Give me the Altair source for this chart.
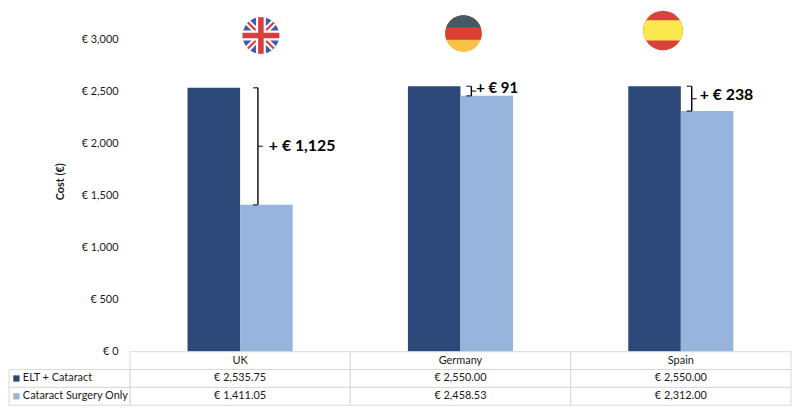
import math
import altair as alt
import pandas as pd

# ---------------- data ----------------
countries = ["UK", "Germany", "Spain"]
series_names = ["ELT + Cataract", "Cataract Surgery Only"]
elt_cataract = [2535.75, 2550.00, 2550.00]
cataract_only = [1411.05, 2458.53, 2312.00]
difference_labels = ["+ € 1,125", "+ € 91", "+ € 238"]
y_tick_values = [0, 500, 1000, 1500, 2000, 2500, 3000]
flag_levels = [3038, 3057, 3086]

# ---------------- style ----------------
FONT = "Lato"
bar_colors = ["#2B4878", "#97B4DC"]
grid_color = "#D9D9D9"
text_color = "#1A1A1A"
brace_offsets = [18, 11, 11]
label_offsets = [29, 16, 19]
label_dy = [0, -3.5, -4]
label_sizes = [16, 15, 16]
flag_offsets = [21, 3, -18]
flag_sizes = [1369, 1369, 1600]

W, H_PLOT, H_TABLE = 667, 344, 54
Y_MAX = 3276

# ---------------- tables ----------------
bars_df = pd.DataFrame(
    [
        {"country": c, "series": s, "cost": v}
        for i, c in enumerate(countries)
        for s, v in zip(series_names, [elt_cataract[i], cataract_only[i]])
    ]
)
brace_df = pd.DataFrame(
    {
        "country": countries,
        "lo": cataract_only,
        "hi": elt_cataract,
        "mid": [(a + b) / 2 for a, b in zip(elt_cataract, cataract_only)],
        "label": difference_labels,
    }
)
flag_df = pd.DataFrame({"country": countries, "level": flag_levels})

x_scale = alt.Scale(domain=countries, paddingInner=0.523, paddingOuter=0.2615)
y_scale = alt.Scale(domain=[0, Y_MAX], nice=False, zero=True)
color_scale = alt.Scale(domain=series_names, range=bar_colors)

X = alt.X("country:N", scale=x_scale, axis=None, sort=countries)


def Yq(field):
    return alt.Y(f"{field}:Q", scale=y_scale)


bars = (
    alt.Chart(bars_df)
    .mark_bar()
    .encode(
        x=X,
        xOffset=alt.XOffset(
            "series:N",
            scale=alt.Scale(domain=series_names, paddingInner=0, paddingOuter=0),
        ),
        y=alt.Y(
            "cost:Q",
            scale=y_scale,
            axis=alt.Axis(
                values=y_tick_values,
                labelExpr="'€ ' + format(datum.value, ',')",
                title="Cost (€)",
                titleFont=FONT,
                titleFontSize=11,
                titleFontWeight="bold",
                titleColor=text_color,
                titlePadding=16,
                labelFont=FONT,
                labelFontSize=11,
                labelColor=text_color,
                labelPadding=12,
                ticks=False,
                domain=False,
                grid=False,
            ),
        ),
        color=alt.Color("series:N", scale=color_scale, legend=None),
    )
)

layers = [bars]

# braces and difference labels
for i, c in enumerate(countries):
    sub = brace_df[brace_df["country"] == c]
    base = alt.Chart(sub)
    off = brace_offsets[i]
    layers.append(
        base.mark_rule(xOffset=off, strokeWidth=1.4, color="black").encode(
            x=X, y=Yq("lo"), y2="hi:Q"
        )
    )
    for fld, dx in (("hi", -2.5), ("lo", -2.5), ("mid", 2.5)):
        layers.append(
            base.mark_tick(
                xOffset=off + dx, size=5, thickness=1.4, color="black",
                orient="horizontal",
            ).encode(x=X, y=Yq(fld))
        )
    layers.append(
        base.mark_text(
            align="left", baseline="middle", xOffset=label_offsets[i],
            dy=label_dy[i],
            font=FONT, fontSize=label_sizes[i], fontWeight="bold", color="black",
        ).encode(x=X, y=Yq("mid"), text="label:N")
    )


# flags (glyph shapes defined in the unit box [-1, 1])
def poly(pts):
    return "M " + " L ".join(f"{x:.4f} {y:.4f}" for x, y in pts) + " Z"


def above(c):
    h = math.sqrt(1 - c * c)
    large = 1 if c > 0 else 0
    return f"M {-h:.4f} {c:.4f} A 1 1 0 {large} 1 {h:.4f} {c:.4f} Z"


def band(a, b):
    ha, hb = math.sqrt(1 - a * a), math.sqrt(1 - b * b)
    return (
        f"M {-ha:.4f} {a:.4f} L {ha:.4f} {a:.4f} A 1 1 0 0 1 {hb:.4f} {b:.4f} "
        f"L {-hb:.4f} {b:.4f} A 1 1 0 0 1 {-ha:.4f} {a:.4f} Z"
    )


def diagonals(w):
    s = math.sqrt(0.5)
    out = []
    for d, n in (((s, s), (-s, s)), ((s, -s), (s, s))):
        pts = [
            (-d[0] - w * n[0], -d[1] - w * n[1]),
            (d[0] - w * n[0], d[1] - w * n[1]),
            (d[0] + w * n[0], d[1] + w * n[1]),
            (-d[0] + w * n[0], -d[1] + w * n[1]),
        ]
        out.append(poly(pts))
    return " ".join(out)


def cross(w):
    return poly([(-1, -w), (1, -w), (1, w), (-1, w)]) + " " + poly(
        [(-w, -1), (w, -1), (w, 1), (-w, 1)]
    )


flag_shapes = {
    "UK": [
        ("circle", "#4458A8"),
        (diagonals(0.17), "#FFFFFF"),
        (diagonals(0.06), "#E0393E"),
        (cross(0.27), "#FFFFFF"),
        (cross(0.15), "#E0393E"),
    ],
    "Germany": [
        ("circle", "#F6C244"),
        (above(1 / 3), "#DC4033"),
        (above(-1 / 3), "#455A64"),
    ],
    "Spain": [
        ("circle", "#D9443A"),
        (band(-0.52, 0.5), "#FBE84E"),
    ],
}

for i, c in enumerate(countries):
    sub = flag_df[flag_df["country"] == c]
    for shape, col in flag_shapes[c]:
        layers.append(
            alt.Chart(sub)
            .mark_point(
                shape=shape, size=flag_sizes[i], filled=True, fill=col,
                strokeWidth=0, opacity=1, xOffset=flag_offsets[i],
            )
            .encode(x=X, y=Yq("level"))
        )

no_border = alt.ViewBackground(strokeWidth=0, stroke="transparent")
bar_chart = alt.layer(*layers).properties(width=W, height=H_PLOT, view=no_border)

# ---------------- data table ----------------
row_names = ["Country"] + series_names
table_rows = []
for i, c in enumerate(countries):
    table_rows.append({"country": c, "row": "Country", "text": c})
    table_rows.append({"country": c, "row": series_names[0], "text": f"€ {elt_cataract[i]:,.2f}"})
    table_rows.append({"country": c, "row": series_names[1], "text": f"€ {cataract_only[i]:,.2f}"})
table_df = pd.DataFrame(table_rows)
legend_df = pd.DataFrame({"series": series_names})

tx = alt.Scale(domain=countries, paddingInner=0, paddingOuter=0)
ty = alt.Scale(domain=row_names, paddingInner=0, paddingOuter=0)
TX = alt.X("country:N", scale=tx, axis=None, sort=countries)
TY = alt.Y("row:N", scale=ty, axis=None, sort=row_names)
LY = alt.Y("series:N", scale=ty, axis=None)

cells = alt.Chart(table_df).mark_rect(
    fill="white", stroke=grid_color, strokeWidth=1
).encode(x=TX, y=TY)
cell_text = alt.Chart(table_df).mark_text(
    font=FONT, fontSize=11, color=text_color, baseline="middle"
).encode(x=TX, y=TY, text="text:N")
legend_cells = alt.Chart(legend_df).mark_rect(
    fill="white", stroke=grid_color, strokeWidth=1
).encode(x=alt.value(-122), x2=alt.value(0), y=LY)
legend_sq = alt.Chart(legend_df).mark_square(size=40, opacity=1).encode(
    x=alt.value(-114.5), y=LY, color=alt.Color("series:N", scale=color_scale, legend=None)
)
legend_text = alt.Chart(legend_df).mark_text(
    align="left", baseline="middle", font=FONT, fontSize=11, color=text_color
).encode(x=alt.value(-108), y=LY, text="series:N")

table_chart = alt.layer(cells, cell_text, legend_cells, legend_sq, legend_text).properties(
    width=W, height=H_TABLE, view=no_border
)

chart = (
    alt.vconcat(bar_chart, table_chart, spacing=0, bounds="flush")
    .resolve_scale(x="independent", y="independent", color="shared")
    .properties(padding=0)
    .configure_view(strokeWidth=0, stroke="transparent")
    .configure_axis(domain=False, grid=False, ticks=False)
    .configure(font=FONT)
)

chart.save("out.html", embed_options={"renderer": "svg", "actions": False})
